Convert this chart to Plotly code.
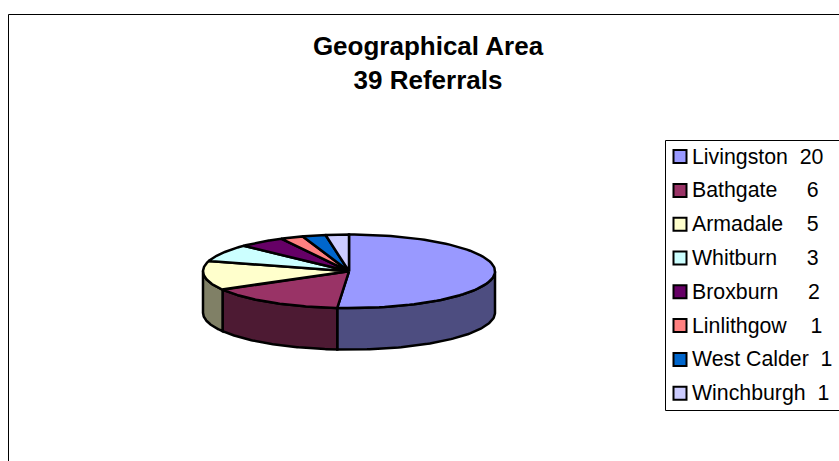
import numpy as np
import plotly.graph_objects as go

categories = ["Livingston", "Bathgate", "Armadale", "Whitburn", "Broxburn", "Linlithgow", "West Calder", "Winchburgh"]
values = [20, 6, 5, 3, 2, 1, 1, 1]
label_gaps = [2, 5, 4, 5, 5, 4, 2, 2]
top_colors = ["#9999FF", "#993366", "#FFFFCC", "#CCFFFF", "#660066", "#FF8080", "#0066CC", "#CCCCFF"]
side_colors = ["#4D4D80", "#4D1A33", "#808066", "#668080", "#330033", "#804040", "#003366", "#666680"]
title_text = "Geographical Area<br>39 Referrals"

CX, CY, RX, RY, DEPTH = 349, 271.3, 146, 36.8, 41.5
LINE = dict(color="black", width=2.5)


def arc(a0, a1, dy=0.0, n=90):
    t = np.radians(np.linspace(a0, a1, n))
    return CX + RX * np.sin(t), CY - RY * np.cos(t) + dy


edges = np.concatenate([[0], np.cumsum(values)]) / sum(values) * 360
fig = go.Figure()

# Side walls: only the part of each slice that faces the viewer
for name, a0, a1, col in zip(categories, edges[:-1], edges[1:], side_colors):
    lo, hi = max(a0, 90), min(a1, 270)
    if hi <= lo:
        continue
    xt, yt = arc(lo, hi)
    xb, yb = arc(lo, hi, DEPTH)
    fig.add_trace(go.Scatter(
        x=np.r_[xt, xb[::-1], xt[0]], y=np.r_[yt, yb[::-1], yt[0]],
        mode="lines", fill="toself", fillcolor=col, line=LINE,
        name=name + " side", hoverinfo="skip", showlegend=False))

# Top faces
for name, v, a0, a1, col in zip(categories, values, edges[:-1], edges[1:], top_colors):
    xt, yt = arc(a0, a1)
    fig.add_trace(go.Scatter(
        x=np.r_[CX, xt, CX], y=np.r_[CY, yt, CY],
        mode="lines", fill="toself", fillcolor=col, line=LINE,
        name=name, text=f"{name}: {v}", hoverinfo="text", showlegend=False))

# Legend rows
row_y = [156.6 + 33.8 * i for i in range(len(categories))]
fig.add_trace(go.Scatter(
    x=[680] * len(categories), y=row_y, mode="markers",
    marker=dict(symbol="square", size=13, color=top_colors, line=dict(color="black", width=2)),
    hoverinfo="skip", showlegend=False))

annotations = [
    dict(x=690, y=y, xref="x", yref="y", xanchor="left", yanchor="middle", showarrow=False,
         text=name + "\u00a0" * gap + str(v), font=dict(family="Liberation Sans", size=21.3, color="black"))
    for name, v, gap, y in zip(categories, values, label_gaps, row_y)
]

shapes = [
    dict(type="rect", x0=8.5, y0=14.5, x1=900, y1=600, xref="x", yref="y",
         line=dict(color="black", width=1), layer="below"),
    dict(type="rect", x0=665.5, y0=140.5, x1=900, y1=410.5, xref="x", yref="y",
         line=dict(color="black", width=1), layer="below"),
]

W, H = 839, 461
fig.update_layout(
    width=W, height=H, margin=dict(l=0, r=0, t=0, b=0),
    paper_bgcolor="white", plot_bgcolor="white", showlegend=False,
    xaxis=dict(range=[0, W], visible=False, fixedrange=True),
    yaxis=dict(range=[H, 0], visible=False, fixedrange=True),
    title=dict(text=title_text, x=428 / W, xanchor="center",
               y=1 - 55 / H, yanchor="middle",
               font=dict(family="Liberation Sans", size=26, color="black", weight="bold")),
    annotations=annotations, shapes=shapes,
)
fig.write_html("out.html", config={"displayModeBar": False},
               post_script="document.body.style.margin='0';document.documentElement.style.overflow='hidden';")
